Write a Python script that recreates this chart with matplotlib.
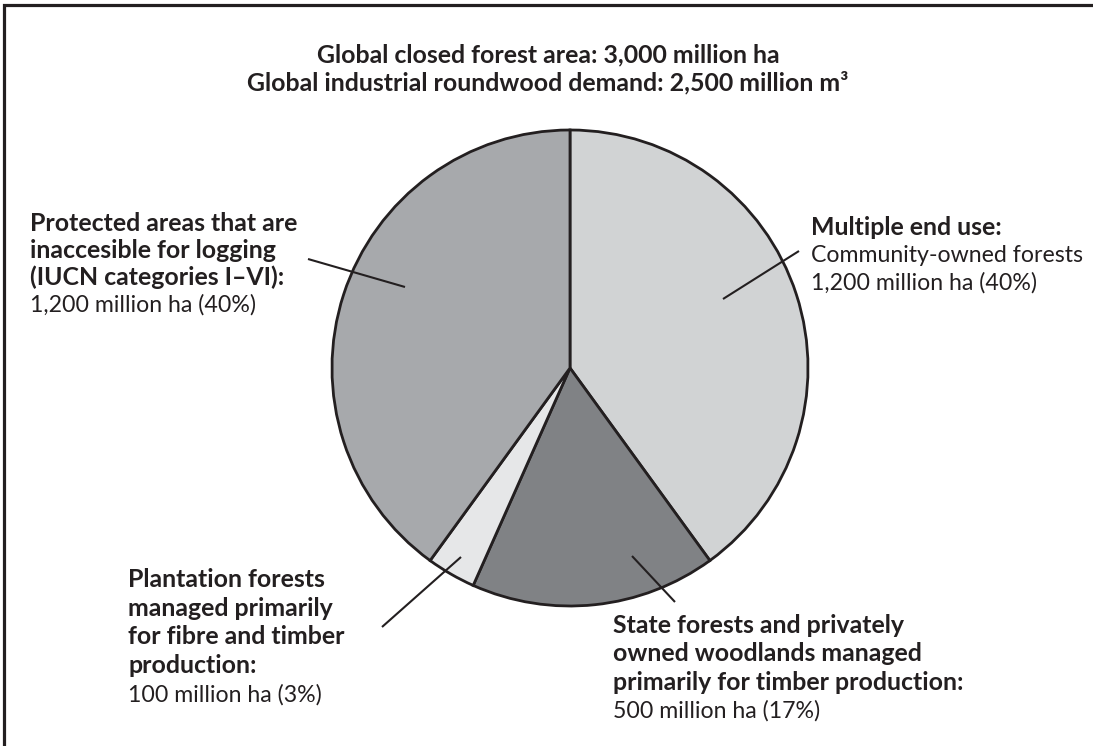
import matplotlib
matplotlib.use("Agg")
import matplotlib.pyplot as plt

# ---------------- data ----------------
categories = ["Multiple end use", "State forests", "Plantation forests", "Protected areas"]
areas_mha = [1200, 500, 100, 1200]
percent_labels = ["40%", "17%", "3%", "40%"]
title_lines = ["Global closed forest area: 3,000 million ha",
               "Global industrial roundwood demand: 2,500 million m\u00b3"]

label_bold = [
    ["Multiple end use:"],
    ["State forests and privately", "owned woodlands managed",
     "primarily for timber production:"],
    ["Plantation forests", "managed primarily", "for fibre and timber", "production:"],
    ["Protected areas that are", "inaccesible for logging", "(IUCN categories I\u2013VI):"],
]
label_regular = [
    ["Community-owned forests", "1,200 million ha (40%)"],
    ["500 million ha (17%)"],
    ["100 million ha (3%)"],
    ["1,200 million ha (40%)"],
]

# ---------------- style / layout ----------------
W, H = 1093, 746
ink = "#231f20"
colors = ["#d1d3d4", "#808285", "#e6e7e8", "#a7a9ac"]
FONT = "Lato"

fig = plt.figure(figsize=(W / 100, H / 100), dpi=100)
ax = fig.add_axes([0, 0, 1, 1])

cx, cy, r = 570, 368, 238
ax.pie(areas_mha, colors=colors, startangle=-90, counterclock=True,
       center=(cx, cy), radius=r,
       wedgeprops=dict(edgecolor=ink, linewidth=2.0, joinstyle="miter"))
ax.set_xlim(0, W)
ax.set_ylim(H, 0)
ax.set_aspect("equal")
ax.axis("off")

# border (left and top visible)
ax.plot([4, 4, W + 20], [H + 20, 5, 5], color=ink, lw=2.3, solid_joinstyle="miter",
        clip_on=False)

# leader lines
leaders = [((799, 251), (723, 299)),
           ((632, 556), (675, 602)),
           ((461, 557), (382, 627)),
           ((308, 259), (405, 287))]
for (x0, y0), (x1, y1) in leaders:
    ax.plot([x0, x1], [y0, y1], color=ink, lw=1.5, solid_capstyle="butt")

fig.canvas.draw()
renderer = fig.canvas.get_renderer()


def fit_size(text, weight, target_px, base=15):
    t = ax.text(0, 0, text, fontsize=base, fontweight=weight, family=FONT)
    w = t.get_window_extent(renderer).width
    t.remove()
    return base * target_px / w


bold_targets = [("Protected areas that are", 273), ("for fibre and timber", 220),
                ("primarily for timber production:", 355), ("Multiple end use:", 189),
                ("State forests and privately", 288), ("Plantation forests", 197)]
reg_targets = [("Community-owned forests", 259), ("1,200 million ha (40%)", 209),
               ("500 million ha (17%)", 195), ("100 million ha (3%)", 185)]
bsz = [fit_size(t, "bold", w) for t, w in bold_targets]
rsz = [fit_size(t, "normal", w) for t, w in reg_targets]
size_b = sum(bsz) / len(bsz)
size_r = 1.06 * sum(rsz) / len(rsz)

blocks = [
    dict(x=811, y=235, step=27.5),
    dict(x=613, y=633, step=28.3),
    dict(x=128, y=587, step=28.7),
    dict(x=30, y=231, step=27.0),
]

for i, b in enumerate(blocks):
    y = b["y"]
    for line in label_bold[i]:
        ax.text(b["x"], y, line, fontsize=size_b, fontweight="bold", family=FONT,
                color=ink, va="baseline", ha="left")
        y += b["step"]
    for line in label_regular[i]:
        ax.text(b["x"], y, line, fontsize=size_r, fontweight="normal", family=FONT,
                color=ink, va="baseline", ha="left")
        y += b["step"]

for j, line in enumerate(title_lines):
    ax.text(548, 62 + 28 * j, line, fontsize=size_b, fontweight="bold", family=FONT,
            color=ink, va="baseline", ha="center")

fig.savefig("out.png", dpi=100)
